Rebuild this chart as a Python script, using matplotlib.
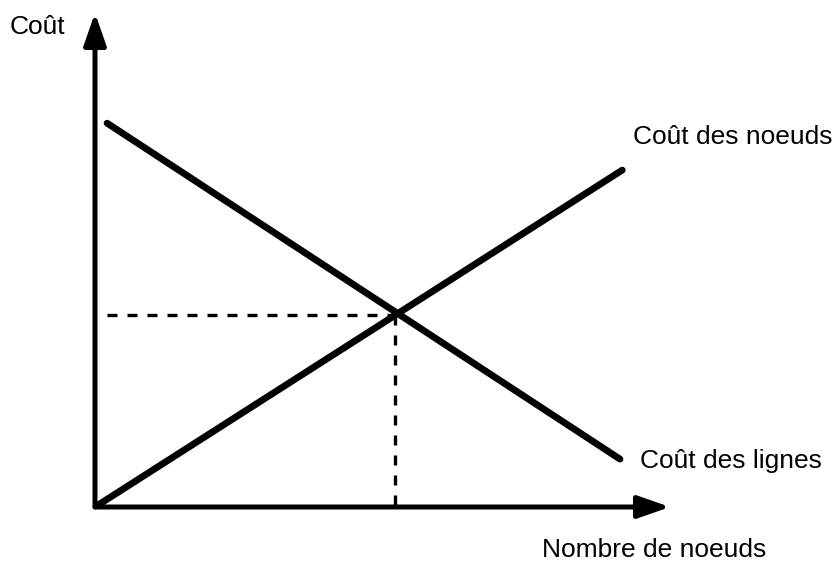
import matplotlib
matplotlib.use("Agg")
import matplotlib.pyplot as plt

# Schematic values (arbitrary units): x = nombre de noeuds, y = coût
noeuds_x = [0.0, 9.17]
noeuds_y = [0.0, 6.82]
lignes_x = [0.21, 9.13]
lignes_y = [7.77, 0.97]
equilibre_x = 5.22
equilibre_y = 3.89
x_max = 10.0
y_max = 10.0

plt.rcParams['font.family'] = ['Liberation Sans', 'DejaVu Sans']

W, H = 840, 564
fig = plt.figure(figsize=(W / 100, H / 100), dpi=100)
# axes spans from origin to the arrow tips
left, bottom = 95 / W, (H - 507) / H
ax = fig.add_axes([left, bottom, (670 - 95) / W, (507 - 13) / H])
ax.set_xlim(0, x_max)
ax.set_ylim(0, y_max)
ax.axis('off')

# axes with arrow heads
arrow = dict(arrowstyle='-|>,head_length=0.97,head_width=0.34', lw=3.6,
             color='black', mutation_scale=20, shrinkA=0, shrinkB=0)
ax.annotate('', xy=(x_max, 0), xytext=(0, 0), arrowprops=arrow)
ax.annotate('', xy=(0, y_max), xytext=(0, 0), arrowprops=arrow)

# cost curves
ax.plot(lignes_x, lignes_y, color='black', lw=4.9, solid_capstyle='round')
ax.plot(noeuds_x, noeuds_y, color='black', lw=4.9, solid_capstyle='round')

# dashed guides to the optimum
ax.plot([lignes_x[0], equilibre_x], [equilibre_y, equilibre_y], color='black',
        lw=2.4, dashes=(3, 3))
ax.plot([equilibre_x, equilibre_x], [equilibre_y, 0], color='black',
        lw=2.4, dashes=(3, 3))

fs = 19
fig.text(10 / W, 1 - 27 / H, 'Coût', fontsize=fs, va='center', ha='left')
fig.text(633 / W, 1 - 137 / H, 'Coût des noeuds', fontsize=fs, va='center', ha='left')
fig.text(640 / W, 1 - 461 / H, 'Coût des lignes', fontsize=fs, va='center', ha='left')
fig.text(542 / W, 1 - 550 / H, 'Nombre de noeuds', fontsize=fs, va='center', ha='left')

fig.savefig('out.png', dpi=100)
